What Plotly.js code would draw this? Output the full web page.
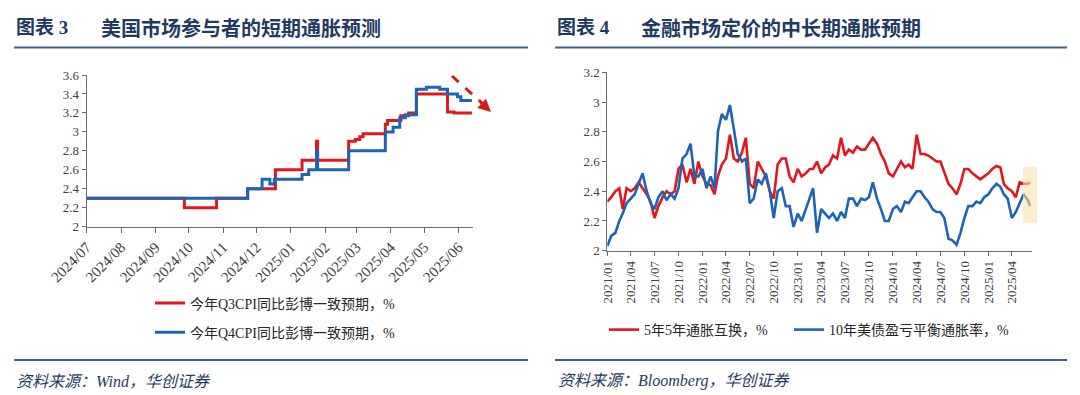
<!DOCTYPE html>
<html>
<head>
<meta charset="utf-8">
<script src="https://cdn.plot.ly/plotly-3.0.1.min.js"></script>
<style>
  html, body { margin: 0; padding: 0; background: #fff; }
  #chart { width: 1080px; height: 395px; }
</style>
</head>
<body>
<div id="chart"></div>
<script>
// ---------- Left chart: short-term CPI expectations (step series) ----------
const leftQ3Dates = ['2024-07-01','2024-09-27','2024-10-26','2024-11-23','2024-12-18','2025-01-11','2025-01-24','2025-01-25','2025-02-22','2025-02-28','2025-03-04','2025-03-07','2025-03-27','2025-03-29','2025-04-10','2025-04-17','2025-04-24','2025-05-22','2025-05-28','2025-06-13'];
const leftQ3Vals  = [2.30, 2.20, 2.30, 2.40, 2.60, 2.70, 2.90, 2.70, 2.90, 2.92, 2.95, 2.98, 3.08, 3.12, 3.17, 3.20, 3.40, 3.21, 3.20, 3.20];
const leftQ4Dates = ['2024-07-01','2024-11-23','2024-12-06','2024-12-13','2024-12-17','2025-01-11','2025-01-17','2025-01-24','2025-01-25','2025-02-22','2025-03-27','2025-04-03','2025-04-09','2025-04-14','2025-04-24','2025-05-03','2025-05-15','2025-05-22','2025-05-31','2025-06-03','2025-06-13'];
const leftQ4Vals  = [2.30, 2.40, 2.50, 2.45, 2.50, 2.55, 2.60, 2.80, 2.60, 2.80, 3.00, 3.05, 3.15, 3.18, 3.45, 3.47, 3.45, 3.40, 3.37, 3.33, 3.33];
const leftNames = ['今年Q3CPI同比彭博一致预期，%', '今年Q4CPI同比彭博一致预期，%'];

// ---------- Right chart: market-implied medium/long-term inflation expectations ----------
const rightDates = [
 '2021-01-01','2021-01-16','2021-02-01','2021-02-16','2021-03-01','2021-03-16','2021-04-01','2021-04-16','2021-05-01','2021-05-16','2021-06-01','2021-06-16',
 '2021-07-01','2021-07-16','2021-08-01','2021-08-16','2021-09-01','2021-09-16','2021-10-01','2021-10-16','2021-11-01','2021-11-16','2021-12-01','2021-12-16',
 '2022-01-01','2022-01-16','2022-02-01','2022-02-16','2022-03-01','2022-03-16','2022-04-01','2022-04-16','2022-05-01','2022-05-16','2022-06-01','2022-06-16',
 '2022-07-01','2022-07-16','2022-08-01','2022-08-16','2022-09-01','2022-09-16','2022-10-01','2022-10-16','2022-11-01','2022-11-16','2022-12-01','2022-12-16',
 '2023-01-01','2023-01-16','2023-02-01','2023-02-16','2023-03-01','2023-03-16','2023-04-01','2023-04-16','2023-05-01','2023-05-16','2023-06-01','2023-06-16',
 '2023-07-01','2023-07-16','2023-08-01','2023-08-16','2023-09-01','2023-09-16','2023-10-01','2023-10-16','2023-11-01','2023-11-16','2023-12-01','2023-12-16',
 '2024-01-01','2024-01-16','2024-02-01','2024-02-16','2024-03-01','2024-03-16','2024-04-01','2024-04-16','2024-05-01','2024-05-16','2024-06-01','2024-06-16',
 '2024-07-01','2024-07-16','2024-08-01','2024-08-16','2024-09-01','2024-09-16','2024-10-01','2024-10-16','2024-11-01','2024-11-16','2024-12-01','2024-12-16',
 '2025-01-01','2025-01-16','2025-02-01','2025-02-16','2025-03-01','2025-03-16','2025-04-01','2025-04-16','2025-05-01','2025-05-16','2025-06-01','2025-06-10'];
const swap5y5y = [
 2.33,2.36,2.40,2.42,2.28,2.42,2.40,2.42,2.46,2.42,2.38,2.33,
 2.22,2.30,2.36,2.40,2.38,2.40,2.55,2.58,2.46,2.55,2.45,2.60,
 2.50,2.45,2.44,2.38,2.50,2.58,2.62,2.78,2.62,2.60,2.66,2.76,
 2.45,2.42,2.60,2.55,2.50,2.40,2.35,2.58,2.62,2.62,2.50,2.46,
 2.55,2.50,2.52,2.55,2.55,2.60,2.52,2.56,2.58,2.64,2.62,2.76,
 2.64,2.68,2.66,2.70,2.68,2.68,2.72,2.76,2.72,2.65,2.60,2.52,
 2.50,2.55,2.60,2.56,2.58,2.55,2.78,2.65,2.65,2.64,2.62,2.60,
 2.60,2.52,2.45,2.42,2.38,2.45,2.55,2.55,2.52,2.50,2.48,2.50,
 2.52,2.55,2.57,2.56,2.45,2.42,2.40,2.36,2.46,2.45,2.45,2.46];
const breakeven10y = [
 2.03,2.10,2.12,2.20,2.25,2.32,2.35,2.38,2.45,2.52,2.40,2.32,
 2.28,2.36,2.40,2.34,2.38,2.35,2.42,2.62,2.65,2.72,2.50,2.50,
 2.55,2.42,2.50,2.42,2.80,2.92,2.88,2.98,2.82,2.65,2.60,2.62,
 2.32,2.35,2.48,2.45,2.52,2.40,2.22,2.40,2.42,2.30,2.30,2.16,
 2.25,2.20,2.28,2.35,2.42,2.12,2.28,2.25,2.22,2.25,2.20,2.26,
 2.22,2.35,2.35,2.30,2.35,2.34,2.36,2.46,2.35,2.28,2.20,2.20,
 2.28,2.30,2.26,2.33,2.32,2.36,2.40,2.40,2.36,2.33,2.28,2.26,
 2.26,2.22,2.08,2.07,2.04,2.12,2.22,2.30,2.30,2.33,2.32,2.36,
 2.38,2.42,2.45,2.43,2.38,2.35,2.22,2.26,2.32,2.38,2.34,2.30];
const rightNames = ['5年5年通胀互换，%', '10年美债盈亏平衡通胀率，%'];

const titles = ['图表 3', '美国市场参与者的短期通胀预测', '图表 4', '金融市场定价的中长期通胀预期'];
const sources = ['资料来源：Wind，华创证券', '资料来源：Bloomberg，华创证券'];

// ---------- Styling ----------
const RED = '#e3161d', BLUE = '#1c64b6', NAVY = '#1f3b63', RULE = '#3e5f8c', AXIS = '#6b6b6b';
const serif = "'Liberation Serif', 'Times New Roman', 'Noto Sans CJK SC', serif";
const cjk = "'Noto Sans CJK SC', 'Liberation Serif', sans-serif";
const W = 1080, H = 395;
const px = v => v / W, py = v => 1 - v / H;

const traces = [
  {x: leftQ3Dates, y: leftQ3Vals, name: leftNames[0], type: 'scatter', mode: 'lines',
   line: {color: RED, width: 3, shape: 'hv'}, xaxis: 'x', yaxis: 'y', legend: 'legend', legendgroup: 'a'},
  {x: leftQ4Dates, y: leftQ4Vals, name: leftNames[1], type: 'scatter', mode: 'lines',
   line: {color: BLUE, width: 3, shape: 'hv'}, xaxis: 'x', yaxis: 'y', legend: 'legend', legendgroup: 'b'},
  {x: rightDates, y: swap5y5y, name: rightNames[0], type: 'scatter', mode: 'lines',
   line: {color: RED, width: 2.6}, xaxis: 'x2', yaxis: 'y2', legend: 'legend2'},
  {x: rightDates, y: breakeven10y, name: rightNames[1], type: 'scatter', mode: 'lines',
   line: {color: BLUE, width: 2.6}, xaxis: 'x2', yaxis: 'y2', legend: 'legend3'}
];

const axisCommon = {
  showline: true, linecolor: AXIS, linewidth: 1, showgrid: false, zeroline: false,
  ticks: 'outside', ticklen: 4, tickcolor: AXIS, tickwidth: 1,
  tickfont: {family: serif, size: 13, color: '#404040'}, fixedrange: true
};
const legendFont = {family: serif, size: 14, color: '#262626'};

const layout = {
  width: W, height: H, margin: {l: 0, r: 0, t: 0, b: 0},
  paper_bgcolor: '#fff', plot_bgcolor: '#fff', showlegend: true,
  xaxis: Object.assign({}, axisCommon, {
    domain: [px(86.7), px(473)], anchor: 'y', type: 'date',
    range: ['2024-07-01', '2025-06-14'], dtick: 'M1', tick0: '2024-07-01', ticklen: 5,
    tickformat: '%Y/%m', tickangle: -45, tickfont: {family: serif, size: 15, color: '#404040'}
  }),
  yaxis: Object.assign({}, axisCommon, {
    domain: [py(226.7), py(75)], anchor: 'x', range: [2, 3.6], dtick: 0.2, tick0: 2
  }),
  xaxis2: Object.assign({}, axisCommon, {
    domain: [px(607.3), px(1031.7)], anchor: 'y2', type: 'date',
    range: ['2021-01-01', '2025-06-16'], dtick: 'M3', tick0: '2021-01-01',
    tickformat: '%Y/%m', tickangle: -90, tickfont: {family: serif, size: 13, color: '#404040'}
  }),
  yaxis2: Object.assign({}, axisCommon, {
    domain: [py(250.7), py(72.3)], anchor: 'x2', range: [2, 3.2], dtick: 0.2, tick0: 2
  }),
  legend: {
    x: px(150), y: py(287.5), xanchor: 'left', yanchor: 'top', orientation: 'v',
    traceorder: 'grouped', tracegroupgap: 8, bgcolor: 'rgba(0,0,0,0)', font: legendFont
  },
  legend2: {
    x: px(604), y: py(314), xanchor: 'left', yanchor: 'top', orientation: 'h',
    bgcolor: 'rgba(0,0,0,0)', font: legendFont
  },
  legend3: {
    x: px(789), y: py(314), xanchor: 'left', yanchor: 'top', orientation: 'h',
    bgcolor: 'rgba(0,0,0,0)', font: legendFont
  },
  shapes: [
    {type: 'line', xref: 'paper', yref: 'paper', x0: px(14), x1: px(528), y0: py(47.5), y1: py(47.5), line: {color: RULE, width: 2.2}},
    {type: 'line', xref: 'paper', yref: 'paper', x0: px(555), x1: px(1067), y0: py(47.5), y1: py(47.5), line: {color: RULE, width: 2.2}},
    {type: 'line', xref: 'paper', yref: 'paper', x0: px(14), x1: px(528), y0: py(360), y1: py(360), line: {color: RULE, width: 2.2}},
    {type: 'line', xref: 'paper', yref: 'paper', x0: px(555), x1: px(1067), y0: py(360), y1: py(360), line: {color: RULE, width: 2.2}},
    // dashed trend arrow shaft (left chart)
    {type: 'line', xref: 'paper', yref: 'paper', x0: px(452), y0: py(76), x1: px(482), y1: py(103), line: {color: '#d11f1a', width: 3, dash: 'dash'}},
    // highlight box (right chart)
    {type: 'rect', xref: 'paper', yref: 'paper', x0: px(1023), x1: px(1037), y0: py(223), y1: py(167), layer: 'above',
     fillcolor: 'rgba(252, 226, 172, 0.62)', line: {width: 0}}
  ],
  annotations: [
    {text: titles[0], xref: 'paper', yref: 'paper', x: px(14), y: py(27), xanchor: 'left', yanchor: 'middle', showarrow: false,
     font: {family: "'Liberation Serif', 'Noto Sans CJK SC', serif", size: 19, color: NAVY, weight: 'bold'}},
    {text: titles[1], xref: 'paper', yref: 'paper', x: px(99), y: py(27), xanchor: 'left', yanchor: 'middle', showarrow: false,
     font: {family: cjk, size: 20, color: NAVY, weight: 'bold'}},
    {text: titles[2], xref: 'paper', yref: 'paper', x: px(555), y: py(27), xanchor: 'left', yanchor: 'middle', showarrow: false,
     font: {family: "'Liberation Serif', 'Noto Sans CJK SC', serif", size: 19, color: NAVY, weight: 'bold'}},
    {text: titles[3], xref: 'paper', yref: 'paper', x: px(639), y: py(27), xanchor: 'left', yanchor: 'middle', showarrow: false,
     font: {family: cjk, size: 20, color: NAVY, weight: 'bold'}},
    {text: sources[0], xref: 'paper', yref: 'paper', x: px(14), y: py(381), xanchor: 'left', yanchor: 'middle', showarrow: false,
     font: {family: "'Liberation Serif', 'Noto Sans CJK SC', serif", size: 16, color: NAVY, style: 'italic'}},
    {text: sources[1], xref: 'paper', yref: 'paper', x: px(556), y: py(381), xanchor: 'left', yanchor: 'middle', showarrow: false,
     font: {family: "'Liberation Serif', 'Noto Sans CJK SC', serif", size: 16, color: NAVY, style: 'italic'}},
    // arrow head of the dashed trend arrow
    {text: '', xref: 'paper', yref: 'paper', x: px(491), y: py(112), showarrow: true, ax: -12, ay: -11,
     arrowhead: 2, arrowsize: 0.85, arrowwidth: 3, arrowcolor: '#d11f1a', standoff: 0}
  ]
};

Plotly.newPlot('chart', traces, layout, {staticPlot: true, displayModeBar: false});
</script>
</body>
</html>
